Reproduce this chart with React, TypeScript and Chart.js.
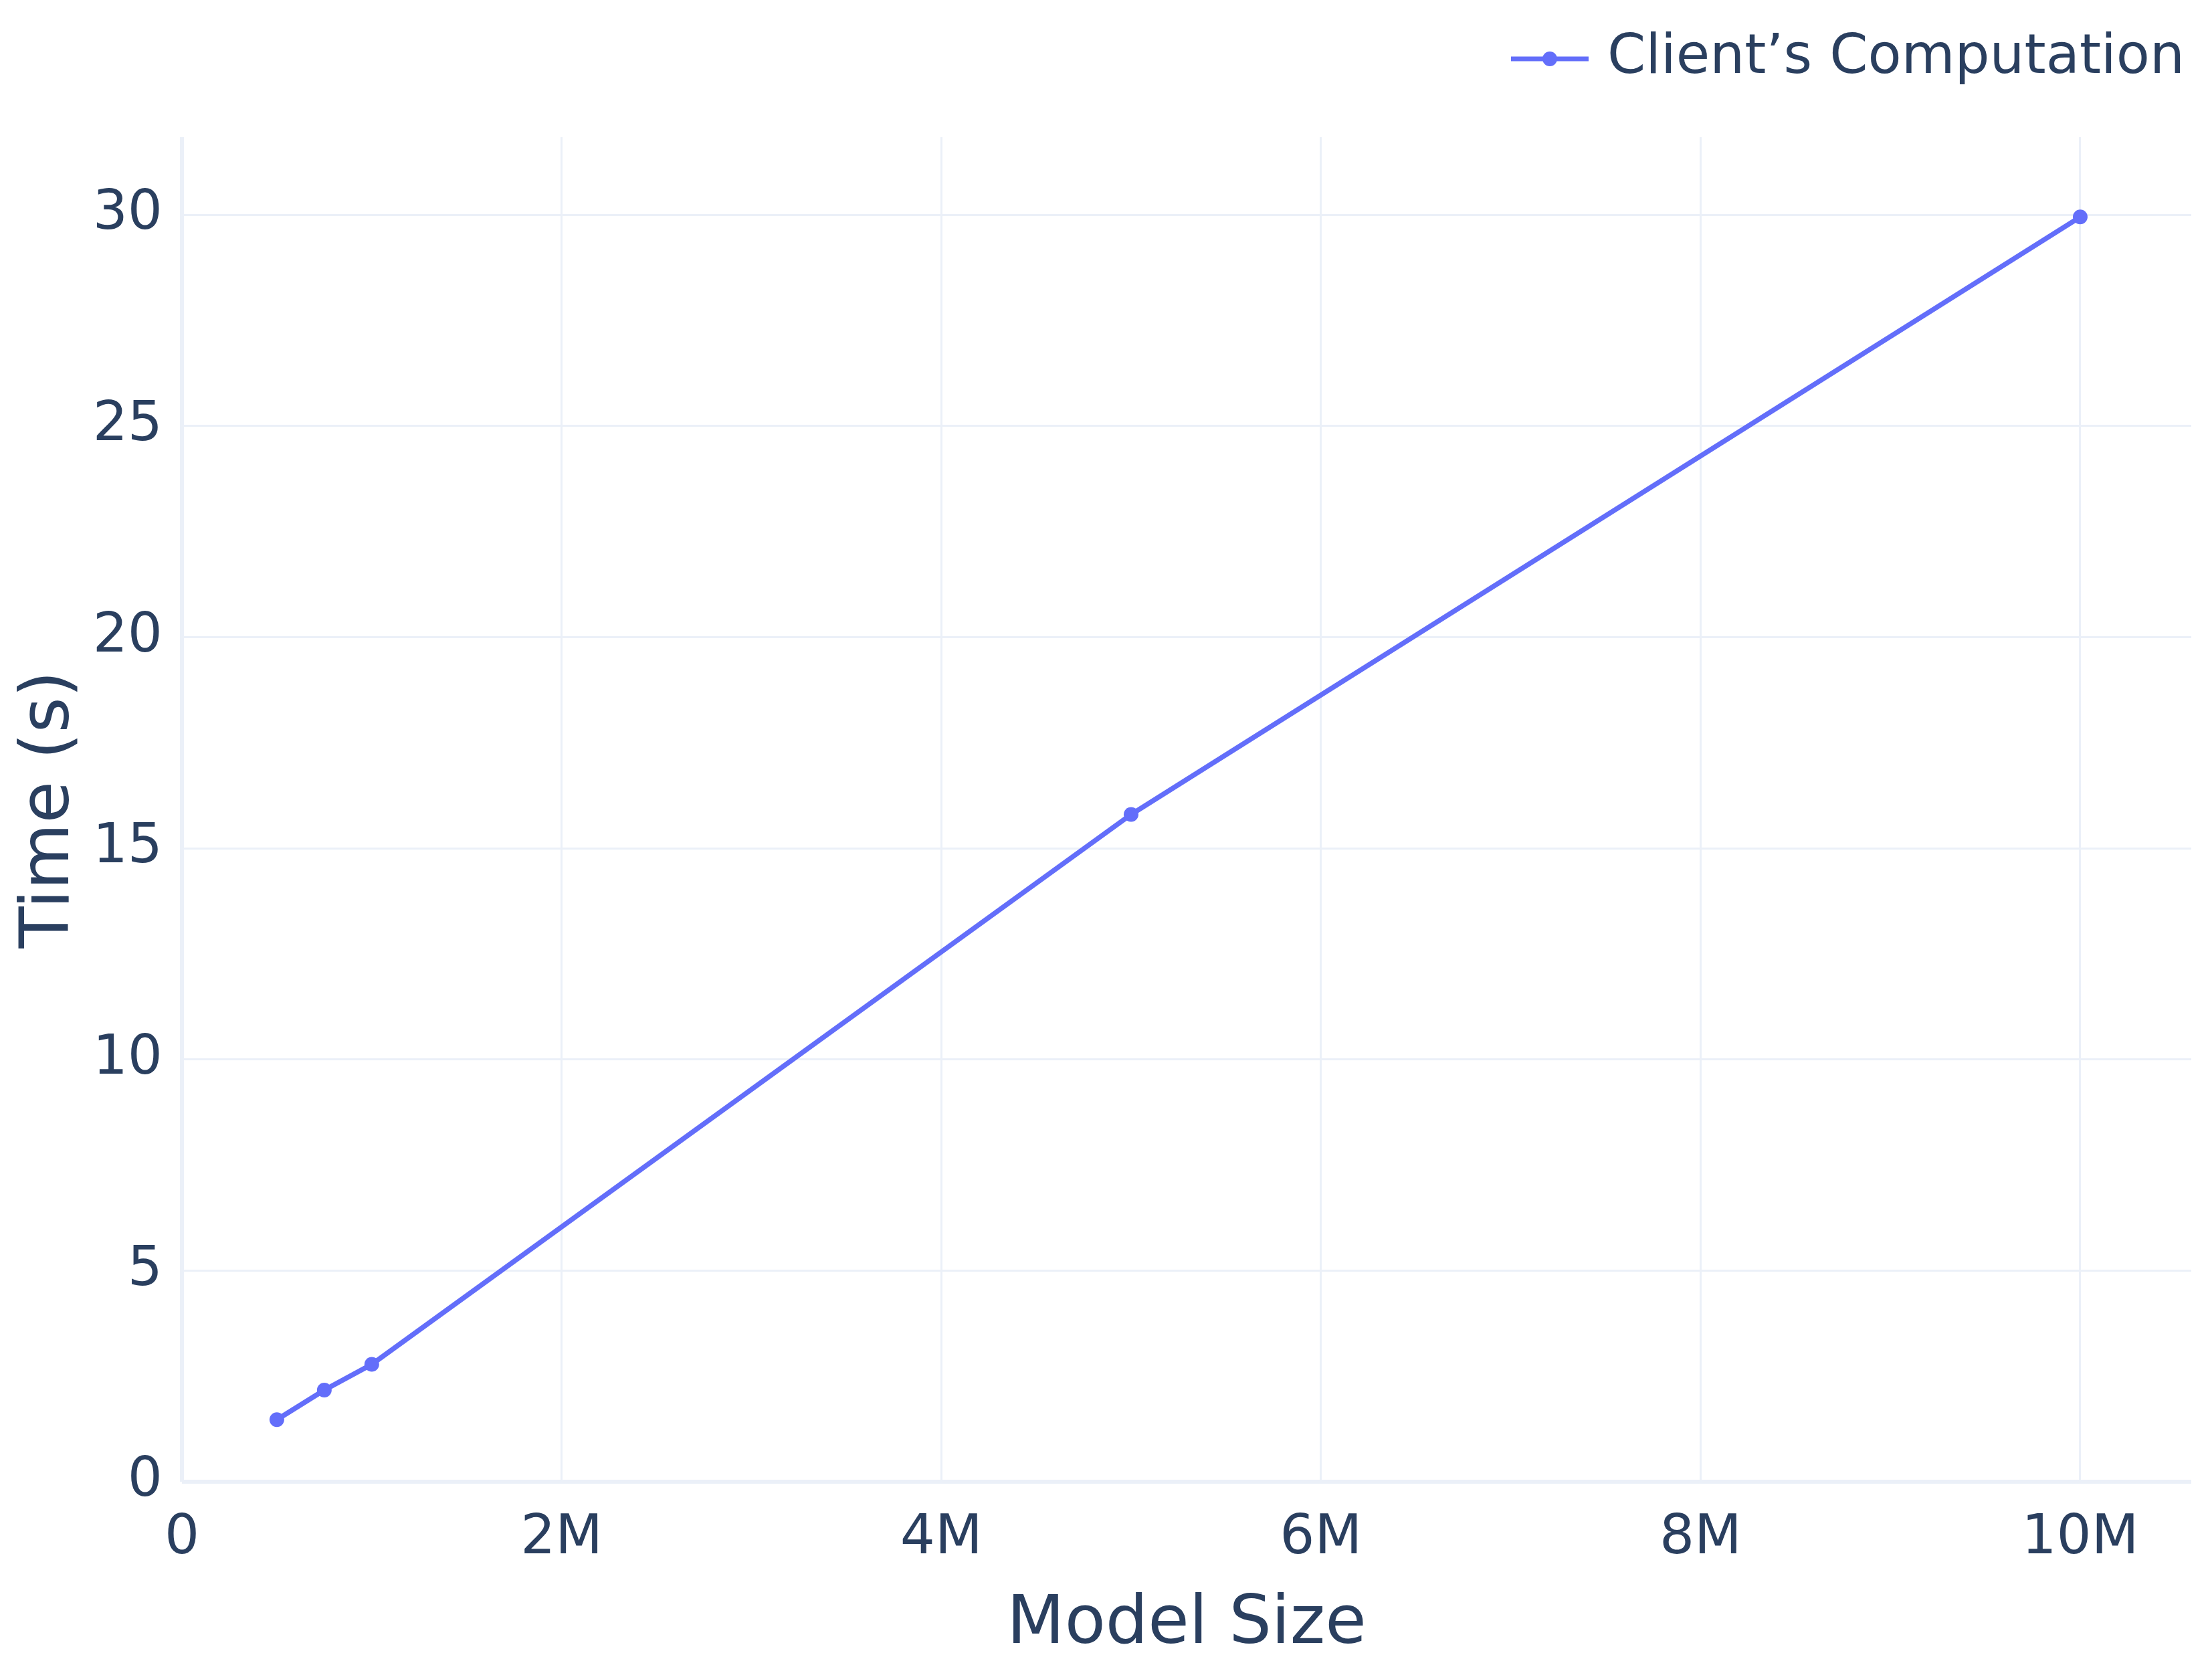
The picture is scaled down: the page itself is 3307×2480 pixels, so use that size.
import { useEffect, useRef } from "react"
import { Chart, registerables } from "chart.js"

Chart.register(...registerables)

// Data
const modelSizes = [500000, 750000, 1000000, 5000000, 10000000]
const clientTimes = [1.47, 2.17, 2.78, 15.8, 29.95]
const seriesLabel = "Client’s Computation"

const xTickValues = [0, 2000000, 4000000, 6000000, 8000000, 10000000]
const xTickLabels = ["0", "2M", "4M", "6M", "8M", "10M"]
const yTickValues = [0, 5, 10, 15, 20, 25, 30]
const yTickLabels = ["0", "5", "10", "15", "20", "25", "30"]

const xTitle = "Model Size"
const yTitle = "Time (s)"

const lineColor = "#636EFA"
const textColor = "#2a3f5f"
const gridColor = "#EBF0F8"
const fontFamily = "'DejaVu Sans', Verdana, sans-serif"

export default function App() {
  const chartRef = useRef<HTMLCanvasElement>(null)
  const chartInstance = useRef<Chart | null>(null)

  useEffect(() => {
    document.body.style.margin = "0"
    if (!chartRef.current) return

    if (chartInstance.current) {
      chartInstance.current.destroy()
    }

    const ctx = chartRef.current.getContext("2d")
    if (!ctx) return

    // legend symbol: short line with a dot in the middle
    const icon = document.createElement("canvas")
    icon.width = 116
    icon.height = 26
    const ictx = icon.getContext("2d")
    if (ictx) {
      ictx.strokeStyle = lineColor
      ictx.fillStyle = lineColor
      ictx.lineWidth = 7
      ictx.beginPath()
      ictx.moveTo(0, 13)
      ictx.lineTo(116, 13)
      ictx.stroke()
      ictx.beginPath()
      ictx.arc(58, 13, 11, 0, Math.PI * 2)
      ictx.fill()
    }

    const zeroWidth = (c: any) => (c.tick && c.tick.value === 0 ? 6 : 3)

    chartInstance.current = new Chart(ctx, {
      type: "line",
      data: {
        datasets: [
          {
            label: seriesLabel,
            data: modelSizes.map((x, i) => ({ x, y: clientTimes[i] })),
            borderColor: lineColor,
            backgroundColor: lineColor,
            borderWidth: 7.5,
            pointRadius: 11,
            pointBorderWidth: 0,
            pointBackgroundColor: lineColor,
            tension: 0,
            fill: false,
          },
        ],
      },
      options: {
        animation: false,
        responsive: true,
        maintainAspectRatio: false,
        devicePixelRatio: 1,
        layout: {
          padding: { top: 37, right: 31, bottom: 0, left: 0 },
        },
        scales: {
          x: {
            type: "linear",
            min: 0,
            max: 10585000,
            afterBuildTicks: (axis: any) => {
              axis.ticks = xTickValues.map((value) => ({ value }))
            },
            afterFit: (scale: any) => {
              scale.height = 265
            },
            grid: {
              color: gridColor,
              lineWidth: zeroWidth,
              drawTicks: false,
            },
            border: { display: false },
            ticks: {
              color: textColor,
              padding: 37,
              maxRotation: 0,
              autoSkip: false,
              font: { family: fontFamily, size: 82 },
              callback: (_v: any, i: number) => xTickLabels[i],
            },
            title: {
              display: true,
              text: xTitle,
              color: textColor,
              padding: { top: 0, bottom: 0 },
              font: { family: fontFamily, size: 100, lineHeight: 1.0 },
            },
          },
          y: {
            type: "linear",
            min: 0,
            max: 31.84,
            afterBuildTicks: (axis: any) => {
              axis.ticks = yTickValues.map((value) => ({ value }))
            },
            afterFit: (scale: any) => {
              scale.width = 272
            },
            grid: {
              color: gridColor,
              lineWidth: zeroWidth,
              drawTicks: false,
            },
            border: { display: false },
            ticks: {
              color: textColor,
              padding: 29,
              autoSkip: false,
              font: { family: fontFamily, size: 82 },
              callback: (_v: any, i: number) => yTickLabels[i],
            },
            title: {
              display: true,
              text: yTitle,
              color: textColor,
              padding: { top: 14, bottom: 0 },
              font: { family: fontFamily, size: 102 },
            },
          },
        },
        plugins: {
          legend: {
            display: true,
            position: "top",
            align: "end",
            labels: {
              usePointStyle: true,
              pointStyleWidth: 90,
              padding: 10,
              color: textColor,
              font: { family: fontFamily, size: 82 },
              generateLabels: () => [
                {
                  text: seriesLabel,
                  fillStyle: lineColor,
                  strokeStyle: lineColor,
                  lineWidth: 0,
                  pointStyle: icon as any,
                  hidden: false,
                  datasetIndex: 0,
                  fontColor: textColor,
                },
              ],
            },
          },
          // empty spacer between the legend and the plot area
          subtitle: {
            display: true,
            text: "",
            position: "top",
            weight: 500,
            padding: 0,
            font: { size: 55, lineHeight: 1.2 },
          },
          tooltip: { enabled: false },
        },
      },
    })

    return () => {
      if (chartInstance.current) {
        chartInstance.current.destroy()
        chartInstance.current = null
      }
    }
  }, [])

  return (
    <div style={{ width: "3307px", height: "2480px", position: "relative", background: "#fff" }}>
      <canvas ref={chartRef} />
    </div>
  )
}
